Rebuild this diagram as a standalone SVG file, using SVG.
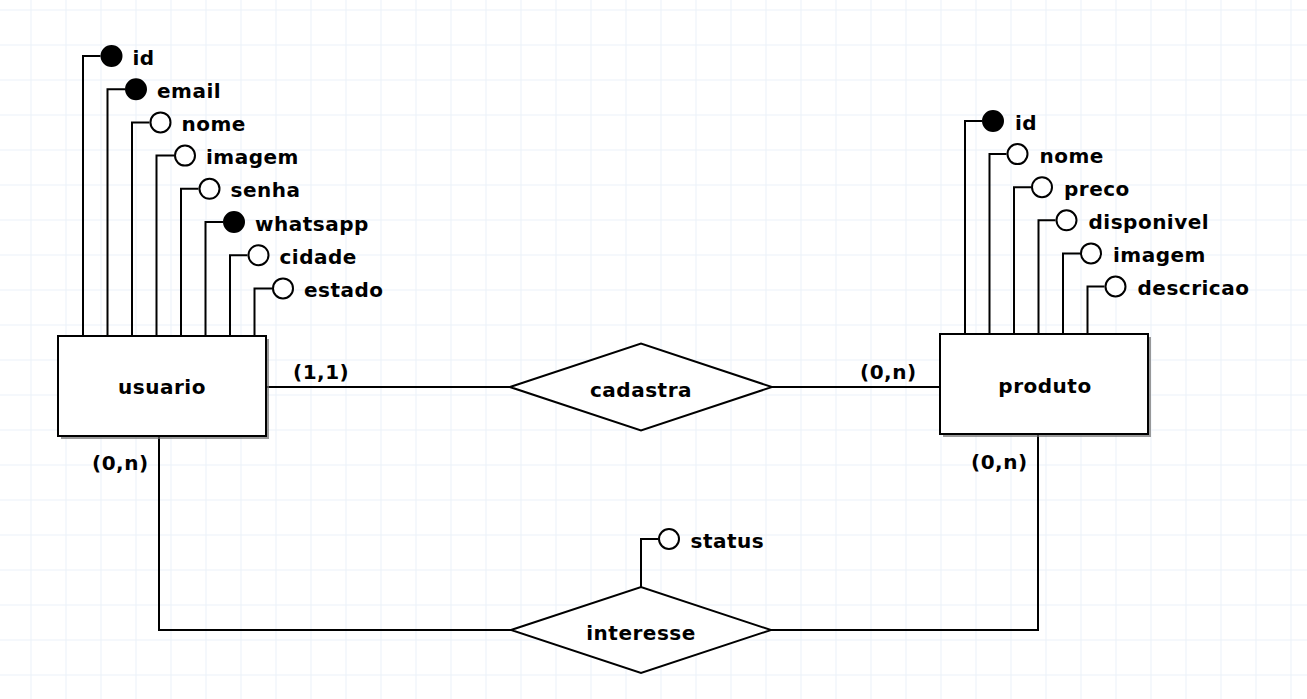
<svg xmlns="http://www.w3.org/2000/svg" width="1307" height="699" viewBox="0 0 1307 699">
<defs>
<pattern id="grid" x="30.5" y="9.5" width="35" height="35" patternUnits="userSpaceOnUse">
<path d="M0 0H35M0 0V35" fill="none" stroke="#ebf1f8" stroke-width="2"/>
</pattern>
</defs>
<style>
text{font-family:"DejaVu Sans","Liberation Sans",sans-serif;font-weight:bold;font-size:20px;letter-spacing:0.5px;fill:#000}
.c{text-anchor:middle}
.ln{fill:none;stroke:#000;stroke-width:2}
.ent{fill:#fff;stroke:#000;stroke-width:2}
.sh{fill:#6f6f6f;opacity:0.7}
.rel{fill:#fff;stroke:#000;stroke-width:2}
.ao{fill:#fff;stroke:#000;stroke-width:2}
.af{fill:#000;stroke:#000;stroke-width:2}
</style>
<rect width="1307" height="699" fill="#fff"/>
<rect width="1307" height="699" fill="url(#grid)"/>

<g id="connectors">
<path class="ln" d="M266 387H510"/>
<path class="ln" d="M772 387H940"/>
<path class="ln" d="M159 436V630H511"/>
<path class="ln" d="M1038 434V630H771"/>
<path class="ln" d="M641 587V539H658"/>
<!-- usuario attribute connectors -->
<path class="ln" d="M83 336V56H100.5"/>
<path class="ln" d="M107.5 336V89.2H125"/>
<path class="ln" d="M132 336V122.4H149.5"/>
<path class="ln" d="M156.5 336V155.6H174"/>
<path class="ln" d="M181 336V188.8H198.5"/>
<path class="ln" d="M205.5 336V222H223"/>
<path class="ln" d="M230 336V255.2H247.5"/>
<path class="ln" d="M254.5 336V288.4H272"/>
<!-- produto attribute connectors -->
<path class="ln" d="M965 334V121H982"/>
<path class="ln" d="M989.5 334V154.1H1006.5"/>
<path class="ln" d="M1014 334V187.2H1031"/>
<path class="ln" d="M1038.5 334V220.3H1055.5"/>
<path class="ln" d="M1063 334V253.4H1080"/>
<path class="ln" d="M1087.5 334V286.5H1104.5"/>
</g>

<g id="usuario">
<rect class="sh" x="61" y="339" width="208" height="100"/>
<rect class="ent" x="58" y="336" width="208" height="100"/>
<text class="c" x="162" y="394">usuario</text>
</g>

<g id="produto">
<rect class="sh" x="943" y="337" width="208" height="100"/>
<rect class="ent" x="940" y="334" width="208" height="100"/>
<text class="c" x="1045" y="393">produto</text>
</g>

<g id="cadastra">
<polygon class="rel" points="510,387 641,343.5 772,387 641,430.5"/>
<text class="c" x="641" y="397">cadastra</text>
</g>

<g id="interesse">
<polygon class="rel" points="511,630 641,587 771,630 641,673"/>
<text class="c" x="641" y="640">interesse</text>
</g>

<g id="usuario-attrs">
<g id="u-id"><circle class="af" cx="111.5" cy="56" r="10"/><text x="132.5" y="64.5">id</text></g>
<g id="u-email"><circle class="af" cx="136" cy="89.2" r="10"/><text x="157" y="97.7">email</text></g>
<g id="u-nome"><circle class="ao" cx="160.5" cy="122.4" r="10"/><text x="181.5" y="130.9">nome</text></g>
<g id="u-imagem"><circle class="ao" cx="185" cy="155.6" r="10"/><text x="206" y="164.1">imagem</text></g>
<g id="u-senha"><circle class="ao" cx="209.5" cy="188.8" r="10"/><text x="230.5" y="197.3">senha</text></g>
<g id="u-whatsapp"><circle class="af" cx="234" cy="222" r="10"/><text x="255" y="230.5">whatsapp</text></g>
<g id="u-cidade"><circle class="ao" cx="258.5" cy="255.2" r="10"/><text x="279.5" y="263.7">cidade</text></g>
<g id="u-estado"><circle class="ao" cx="283" cy="288.4" r="10"/><text x="304" y="296.9">estado</text></g>
</g>

<g id="produto-attrs">
<g id="p-id"><circle class="af" cx="993" cy="121" r="10"/><text x="1015" y="129.5">id</text></g>
<g id="p-nome"><circle class="ao" cx="1017.5" cy="154.1" r="10"/><text x="1039.5" y="162.6">nome</text></g>
<g id="p-preco"><circle class="ao" cx="1042" cy="187.2" r="10"/><text x="1064" y="195.7">preco</text></g>
<g id="p-disponivel"><circle class="ao" cx="1066.5" cy="220.3" r="10"/><text x="1088.5" y="228.8">disponivel</text></g>
<g id="p-imagem"><circle class="ao" cx="1091" cy="253.4" r="10"/><text x="1113" y="261.9">imagem</text></g>
<g id="p-descricao"><circle class="ao" cx="1115.5" cy="286.5" r="10"/><text x="1137.5" y="295">descricao</text></g>
</g>

<g id="interesse-attr">
<g id="i-status"><circle class="ao" cx="669" cy="539" r="10"/><text x="690.5" y="547.5">status</text></g>
</g>

<g id="labels">
<text x="293" y="379">(1,1)</text>
<text x="860" y="379">(0,n)</text>
<text x="92" y="470">(0,n)</text>
<text x="971" y="469">(0,n)</text>
</g>
</svg>
